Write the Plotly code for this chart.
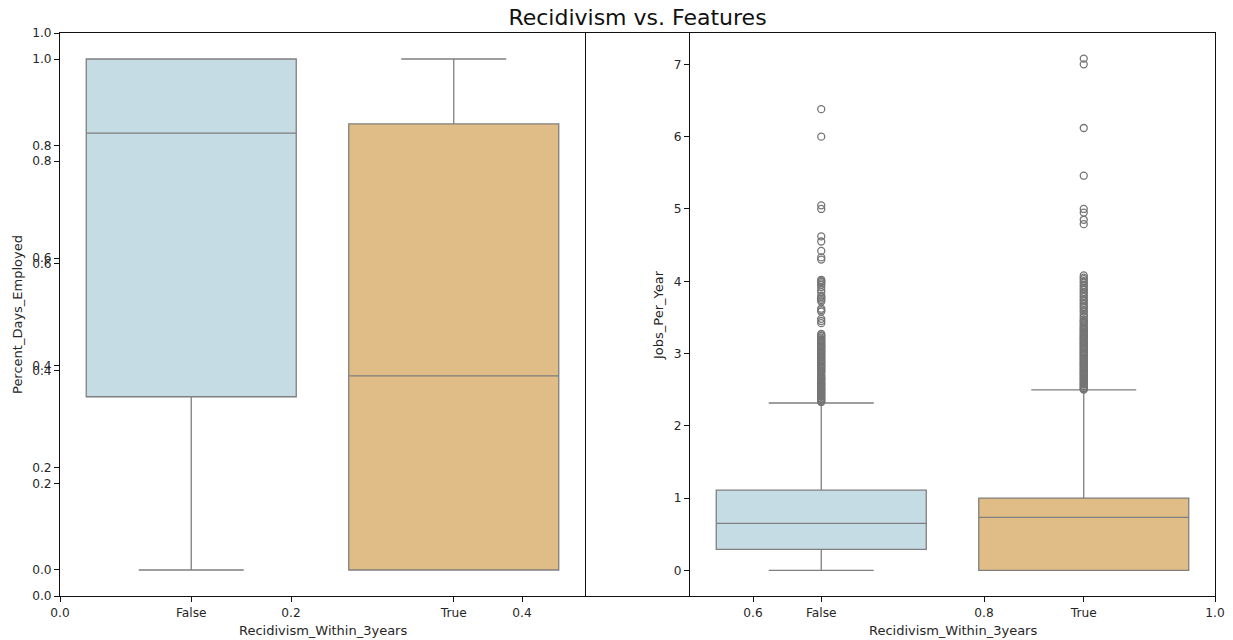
import plotly.graph_objects as go

# ---- data -------------------------------------------------------------
categories = ["False", "True"]

# Percent_Days_Employed box statistics per recidivism group
pde_q1 = [0.339, 0.0]
pde_median = [0.855, 0.380]
pde_q3 = [1.0, 0.873]
pde_low = [0.0, 0.0]
pde_high = [1.0, 1.0]

# Jobs_Per_Year box statistics per recidivism group
jpy_q1 = [0.29, 0.0]
jpy_median = [0.652, 0.735]
jpy_q3 = [1.11, 1.0]
jpy_low = [0.0, 0.0]
jpy_high = [2.316, 2.496]

# Jobs_Per_Year outliers
jpy_out_false = [
    2.33, 2.34, 2.36, 2.37, 2.38, 2.40, 2.41, 2.43, 2.44, 2.45, 2.47, 2.48,
    2.50, 2.51, 2.52, 2.54, 2.55, 2.57, 2.58, 2.59, 2.61, 2.62, 2.64, 2.65,
    2.66, 2.68, 2.69, 2.71, 2.74, 2.75, 2.76, 2.78, 2.79, 2.81, 2.82, 2.83,
    2.85, 2.86, 2.88, 2.89, 2.90, 2.92, 2.93, 2.95, 2.96, 2.97, 2.99, 3.00,
    3.02, 3.03, 3.04, 3.06, 3.07, 3.09, 3.10, 3.11, 3.13, 3.14, 3.16, 3.17,
    3.19, 3.20, 3.22, 3.24, 3.25, 3.27, 3.42, 3.45, 3.48, 3.58, 3.60, 3.62,
    3.72, 3.74, 3.76, 3.78, 3.80, 3.85, 3.88, 3.92, 3.95, 3.97, 3.99, 4.00,
    4.02, 4.30, 4.33, 4.42, 4.55, 4.62, 5.00, 5.05, 6.00, 6.38,
]
jpy_out_true = [
    2.50, 2.51, 2.52, 2.54, 2.55, 2.57, 2.58, 2.59, 2.61, 2.62, 2.64, 2.65,
    2.66, 2.68, 2.69, 2.71, 2.72, 2.73, 2.75, 2.76, 2.78, 2.79, 2.80, 2.82,
    2.83, 2.85, 2.86, 2.87, 2.89, 2.90, 2.92, 2.93, 2.94, 2.96, 2.97, 2.99,
    3.00, 3.01, 3.03, 3.04, 3.06, 3.07, 3.08, 3.10, 3.11, 3.13, 3.14, 3.15,
    3.17, 3.18, 3.20, 3.21, 3.22, 3.24, 3.25, 3.27, 3.28, 3.30, 3.32, 3.33,
    3.35, 3.36, 3.38, 3.40, 3.42, 3.44, 3.45, 3.47, 3.50, 3.52, 3.55, 3.58,
    3.60, 3.63, 3.65, 3.68, 3.70, 3.73, 3.75, 3.78, 3.80, 3.83, 3.85, 3.88,
    3.90, 3.93, 3.95, 3.98, 4.00, 4.03, 4.05, 4.08, 4.79, 4.85, 4.95, 5.00,
    5.46, 6.12, 7.00, 7.08,
]

fill_colors = ["#c6dce5", "#e0bd87"]
edge_color = "#7f7f7f"
flier_color = "#757575"
axis_color = "#111111"
text_color = "#262626"
FONT = "DejaVu Sans"

W, H = 1233, 640


def fx(px):
    return px / W


def fy(py):
    return 1 - py / H


fig = go.Figure()

# invisible trace so the full-figure frame axes exist
fig.add_trace(go.Scatter(x=[None], y=[None], xaxis="x", yaxis="y",
                         showlegend=False, hoverinfo="skip"))

panels = [
    ("x2", "y2", pde_q1, pde_median, pde_q3, pde_low, pde_high, None),
    ("x3", "y3", jpy_q1, jpy_median, jpy_q3, jpy_low, jpy_high,
     [jpy_out_false, jpy_out_true]),
]

for xa, ya, q1, med, q3, lo, hi, outs in panels:
    for i, cat in enumerate(categories):
        fig.add_trace(go.Box(
            x=[i], q1=[q1[i]], median=[med[i]], q3=[q3[i]],
            lowerfence=[lo[i]], upperfence=[hi[i]],
            width=0.8, whiskerwidth=0.5,
            fillcolor=fill_colors[i],
            line=dict(color=edge_color, width=1.3),
            boxpoints=False, showlegend=False, hoverinfo="skip",
            xaxis=xa, yaxis=ya, name=cat,
        ))
        if outs is not None:
            fig.add_trace(go.Scatter(
                x=[i] * len(outs[i]), y=outs[i], mode="markers",
                marker=dict(symbol="circle-open", size=7, color=flier_color,
                            line=dict(width=1.3, color=flier_color)),
                showlegend=False, hoverinfo="skip", xaxis=xa, yaxis=ya,
            ))

tick_font = dict(family=FONT, size=12.2, color=text_color)
common = dict(showgrid=False, zeroline=False, showline=True,
              automargin=False,
              linecolor=axis_color, linewidth=1, ticks="outside",
              ticklen=5, tickwidth=1, tickcolor=axis_color,
              tickfont=tick_font, mirror=True)

fig.update_layout(
    width=W, height=H, autosize=False,
    margin=dict(l=0, r=0, t=0, b=0, autoexpand=False),
    paper_bgcolor="white", plot_bgcolor="rgba(0,0,0,0)",
    title=dict(text="Recidivism vs. Features", x=fx(637.5), xanchor="center",
               xref="paper", y=fy(17), yanchor="middle", yref="container",
               font=dict(family=FONT, size=22, color="#111111")),
    # frame axes spanning the whole figure
    xaxis=dict(domain=[fx(60), fx(1215)], range=[0, 1], anchor="y",
               tickvals=[0, 0.2, 0.4, 0.6, 0.8, 1.0], tickformat=".1f",
               **common),
    yaxis=dict(domain=[fy(596), fy(33)], range=[0, 1], anchor="x",
               tickvals=[0, 0.2, 0.4, 0.6, 0.8, 1.0], tickformat=".1f",
               **common),
    # Percent_Days_Employed panel
    xaxis2=dict(domain=[fx(60), fx(585)], range=[-0.5, 1.5], anchor="y2",
                tickvals=[0, 1], ticktext=categories, **common),
    yaxis2=dict(domain=[fy(596), fy(33)], range=[-0.0509, 1.0509],
                anchor="x2", tickvals=[0, 0.2, 0.4, 0.6, 0.8, 1.0],
                tickformat=".1f", **common),
    # Jobs_Per_Year panel
    xaxis3=dict(domain=[fx(690), fx(1215)], range=[-0.5, 1.5], anchor="y3",
                tickvals=[0, 1], ticktext=categories, **common),
    yaxis3=dict(domain=[fy(596), fy(33)], range=[-0.354, 7.434],
                anchor="x3", tickvals=[0, 1, 2, 3, 4, 5, 6, 7], **common),
)

label_font = dict(family=FONT, size=13, color=text_color)
axis_titles = [
    ("Recidivism_Within_3years", 322.5, 630, 0),
    ("Recidivism_Within_3years", 952.5, 630, 0),
    ("Percent_Days_Employed", 17, 315, -90),
    ("Jobs_Per_Year", 658, 315, -90),
]
for text, px, py, ang in axis_titles:
    fig.add_annotation(text=text, x=fx(px), y=fy(py), xref="paper",
                       yref="paper", showarrow=False, textangle=ang,
                       xanchor="center", yanchor="middle", font=label_font)

fig.write_html("out.html")
